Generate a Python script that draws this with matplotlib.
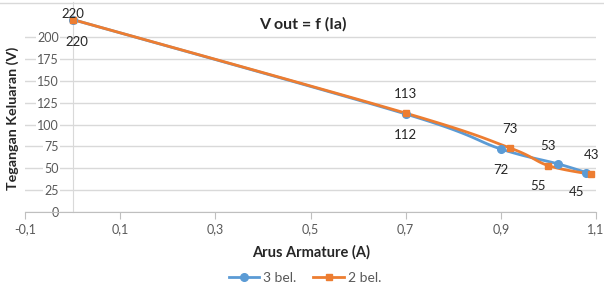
import matplotlib

matplotlib.use("Agg")
import matplotlib.pyplot as plt
import numpy as np
from matplotlib.lines import Line2D

# data
ia_3bel = [0.0, 0.70, 0.90, 1.02, 1.08]
v_3bel = [220, 112, 72, 55, 45]
ia_2bel = [0.0, 0.70, 0.92, 1.00, 1.09]
v_2bel = [220, 113, 73, 53, 43]

x_ticks = [-0.1, 0.1, 0.3, 0.5, 0.7, 0.9, 1.1]
x_ticklabels = ["-0,1", "0,1", "0,3", "0,5", "0,7", "0,9", "1,1"]
y_ticks = [0, 25, 50, 75, 100, 125, 150, 175, 200]

# data label offsets in points (label placement, not data)
off_3bel = [(3, -16), (0, -15), (0, -15), (-14, -16), (-7, -14)]
off_2bel = [(0, 4), (0, 14), (0, 14), (0, 14), (0, 14)]

BLUE = "#5B9BD5"
ORANGE = "#ED7D31"
GREY = "#595959"
GRID = "#D9D9D9"

plt.rcParams["font.family"] = ["Lato", "DejaVu Sans"]


def smooth(xs, ys, n=30):
    # Excel-style smoothed line: Bezier segments with Catmull-Rom controls
    p = np.column_stack([xs, ys]).astype(float)
    out = [p[0]]
    t = np.linspace(0, 1, n)[1:, None]
    for i in range(len(p) - 1):
        p0 = p[i - 1] if i > 0 else p[i]
        p1, p2 = p[i], p[i + 1]
        p3 = p[i + 2] if i + 2 < len(p) else p[i + 1]
        c1 = p1 + (p2 - p0) / 6
        c2 = p2 - (p3 - p1) / 6
        seg = ((1 - t) ** 3) * p1 + 3 * ((1 - t) ** 2) * t * c1 + 3 * (1 - t) * t ** 2 * c2 + t ** 3 * p2
        out.extend(seg)
    out = np.array(out)
    return out[:, 0], out[:, 1]


fig = plt.figure(figsize=(6.04, 2.89), dpi=100)
ax = fig.add_axes([25 / 604, 1 - 212 / 289, 571 / 604, 210 / 289])

for xs, ys, col, mk, ms in (
    (ia_3bel, v_3bel, BLUE, "o", 5.5),
    (ia_2bel, v_2bel, ORANGE, "s", 5),
):
    sx, sy = smooth(xs, ys)
    ax.plot(sx, sy, color=col, lw=2, zorder=3, solid_capstyle="round")
    ax.plot(xs, ys, ls="none", marker=mk, ms=ms, color=col, zorder=4)

for xs, ys, offs in ((ia_3bel, v_3bel, off_3bel), (ia_2bel, v_2bel, off_2bel)):
    for x, y, (dx, dy) in zip(xs, ys, offs):
        ax.annotate(str(y), (x, y), xytext=(dx, dy), textcoords="offset points",
                    ha="center", va="center", fontsize=9.5, color="#262626",
                    zorder=5, annotation_clip=False)

ax.set_xlim(-0.1, 1.1)
ax.set_ylim(0, 240)
ax.set_xticks(x_ticks)
ax.set_xticklabels(x_ticklabels)
ax.set_yticks(y_ticks)
ax.set_axisbelow(True)
ax.grid(axis="y", color=GRID, lw=1)

for s in ("top", "right"):
    ax.spines[s].set_visible(False)
ax.spines["left"].set_position(("data", 0))
ax.spines["left"].set_color(GRID)
ax.spines["left"].set_bounds(0, 240)
ax.spines["bottom"].set_color("#BFBFBF")

ax.tick_params(axis="y", length=0, pad=10, labelsize=9, labelcolor=GREY)
ax.tick_params(axis="x", length=5, color="#BFBFBF", pad=3, labelsize=9, labelcolor=GREY)
for lab in ax.get_yticklabels():
    lab.set_bbox(dict(facecolor="white", edgecolor="none", pad=0.6))

fig.text(303 / 604, 1 - 24 / 289, "V out = f (Ia)", ha="center", va="center",
         fontsize=11.5, fontweight="bold", color="#262626")
fig.text(13 / 604, 1 - 118 / 289, "Tegangan Keluaran (V)", rotation=90, ha="center",
         va="center", fontsize=10.3, fontweight="bold", color="#262626")
fig.text(311 / 604, 1 - 252 / 289, "Arus Armature (A)", ha="center", va="center",
         fontsize=10.5, fontweight="bold", color="#262626")

# chart border line at top
fig.add_artist(Line2D([0, 1], [1 - 2.5 / 289] * 2, transform=fig.transFigure, color=GRID, lw=1))

handles = [
    Line2D([], [], color=BLUE, lw=2, marker="o", ms=5.5),
    Line2D([], [], color=ORANGE, lw=2, marker="s", ms=5),
]
fig.legend(handles, ["3 bel.", "2 bel."], loc="center", bbox_to_anchor=(305 / 604, 1 - 278 / 289),
           ncol=2, frameon=False, fontsize=10, labelcolor=GREY, handlelength=2.2,
           handletextpad=0.3, columnspacing=1.2)

fig.savefig("out.png", dpi=100)
